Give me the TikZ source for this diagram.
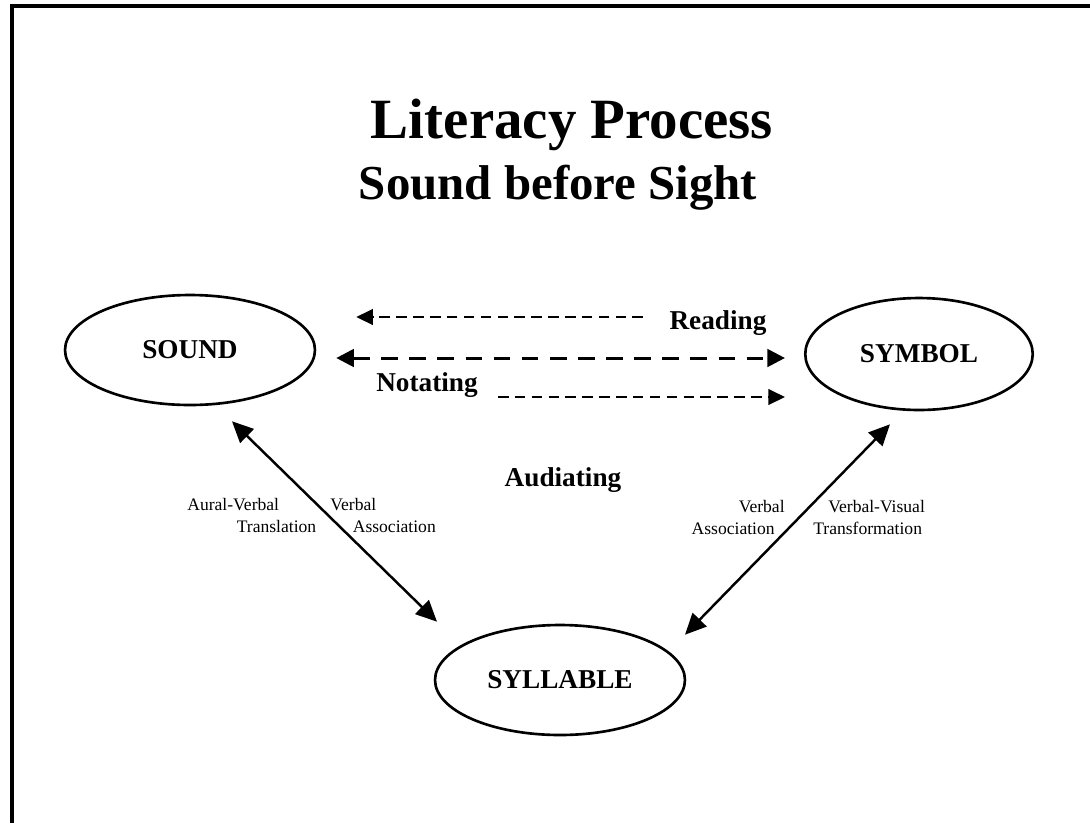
\documentclass[tikz,border=0pt]{standalone}
\usepackage{fontspec}
\setmainfont{Liberation Serif}
\usetikzlibrary{positioning, calc}
\usetikzlibrary{shapes.geometric}
\usetikzlibrary{arrows.meta}

\tikzset{
  bubble/.style={draw, ellipse, line width=1.5pt, minimum width=5cm, minimum height=2.2cm,
    font=\fontsize{15.5}{18}\selectfont\bfseries},
  tag/.style={font=\fontsize{15.5}{18}\selectfont\bfseries, inner sep=0pt},
  small/.style={font=\fontsize{10}{12.5}\selectfont, inner sep=0pt, align=left},
  thin dash/.style={line width=1.1pt, dash pattern=on 6pt off 3.6pt,
    -{Triangle[length=9.5pt, width=9pt]}},
  thick dash/.style={line width=1.7pt, dash pattern=on 9.5pt off 6.5pt,
    {Triangle[length=10pt, width=10pt]}-{Triangle[length=10pt, width=10pt]}},
  link/.style={line width=1.4pt,
    {Triangle[length=12pt, width=11pt]}-{Triangle[length=12pt, width=11pt]}}
}

\begin{document}
\begin{tikzpicture}[x=0.02cm, y=-0.02cm]
  \useasboundingbox (0,0) rectangle (1090,823);
  % frame, only top and left show
  \draw[line width=2.6pt] (12,823) -- (12,6) -- (1090,6);

  % heading
  \node (title) at (572,125) {\fontsize{32.4}{38}\selectfont\bfseries Literacy Process};
  \node (subtitle) at (558,188) {\fontsize{27.8}{33}\selectfont\bfseries Sound before Sight};

  % the three ellipses
  \node[bubble] (sound) at (190,350) {SOUND};
  \node[bubble, minimum width=4.55cm, minimum height=2.24cm] (symbol) at (919,354) {SYMBOL};
  \node[bubble] (syllable) at (560,680) {SYLLABLE};

  % ends of the arrows
  \coordinate (rdA) at ($(sound.east)+(40,-33)$);
  \coordinate (rdB) at (643,317);
  \coordinate (ntA) at (498,397);
  \coordinate (ntB) at ($(symbol.west)+(-19,43)$);

  \draw[thin dash] (rdB) -- (rdA);
  \draw[thick dash] ($(sound.east)+(20,8)$) -- ($(symbol.west)+(-19,4)$);
  \draw[thin dash] (ntA) -- (ntB);

  \draw[link] ($(sound.south)+(42,15)$) -- ($(syllable.north)+(-123,-2)$);
  \draw[link] ($(syllable.north)+(125,11)$) -- ($(symbol.south)+(-29,13)$);

  \node[tag] (reading) at (718,323) {Reading};
  \node[tag] (notating) at (427,385) {Notating};
  \node[tag] (audiating) at (563,480) {Audiating};

  \node[small, anchor=north west] (avt) at (187,498) {Aural-Verbal\\\hspace*{0.99cm}Translation};
  \node[small, anchor=north west] (va1) at (330,498) {Verbal\\\hspace*{0.45cm}Association};
  \node[small, anchor=north east, align=right] (va2) at (785,500) {Verbal\hspace*{0pt}\\Association\hspace*{0.2cm}};
  \node[small, anchor=north west] (vvt) at (813,500) {\hspace*{0.3cm}Verbal-Visual\\Transformation};
\end{tikzpicture}
\end{document}
